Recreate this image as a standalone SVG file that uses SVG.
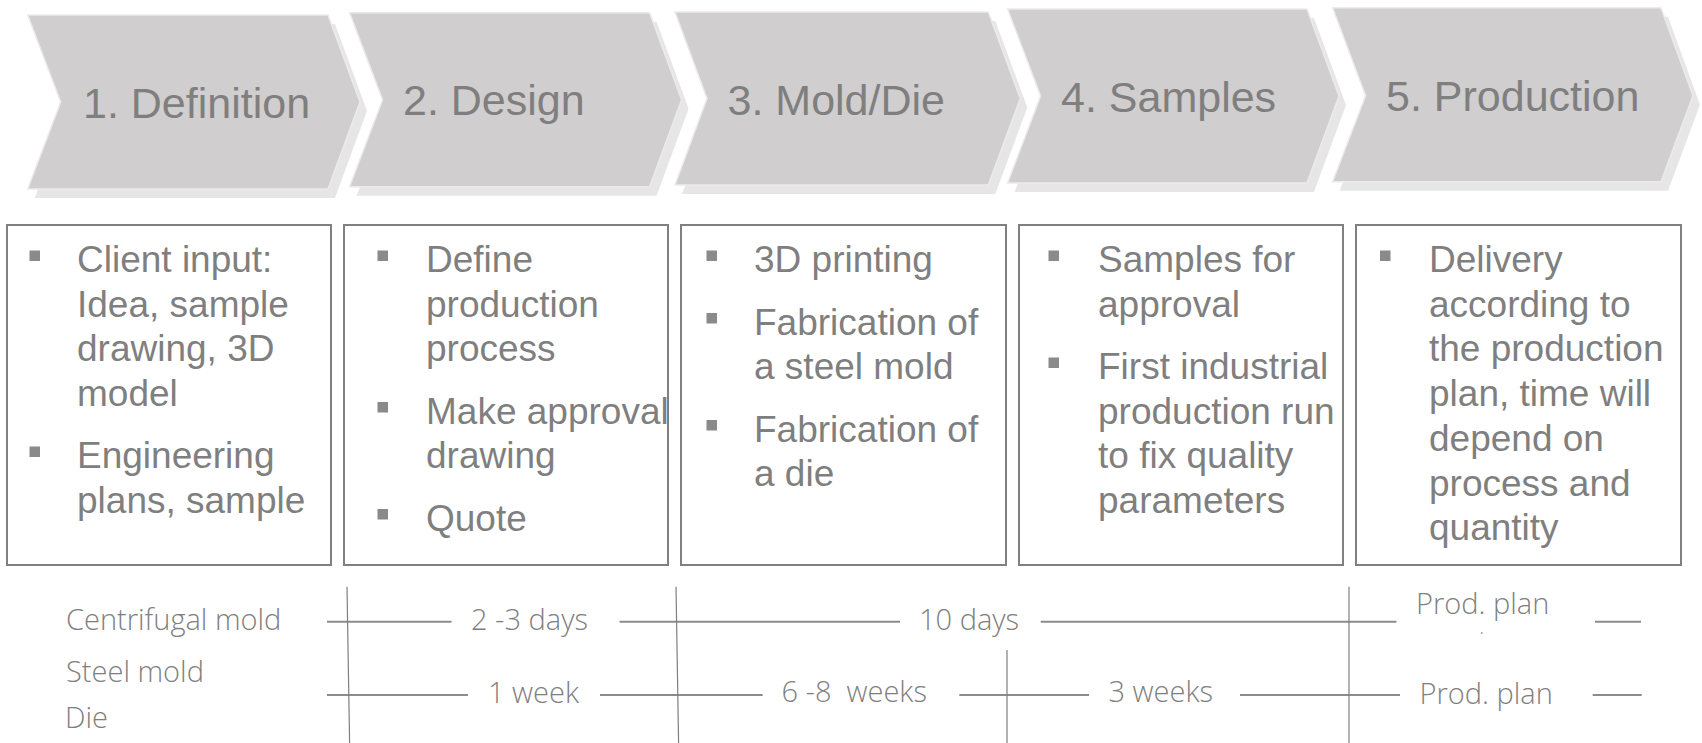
<svg xmlns="http://www.w3.org/2000/svg" width="1702" height="743" viewBox="0 0 1702 743">
<style>
.chev{fill:#d0cecf;stroke:#ebebeb;stroke-width:1.5}
.shad{fill:#e6e6e6}
.ct{font-family:"Liberation Sans",Arial,sans-serif;font-size:43px;fill:#7f7f7f}
.box{fill:#ffffff;stroke:#808080;stroke-width:2}
.bt{font-family:"Liberation Sans",Arial,sans-serif;font-size:37px;fill:#7f7f7f}
.bul{fill:#8a8a8a}
.tl{font-family:"Open Sans","Liberation Sans",sans-serif;font-weight:300;font-size:29px;fill:#7f7f7f}
.hl{stroke:#8c8c8c;stroke-width:2;fill:none}
.vl{stroke:#7f7f7f;stroke-width:1.2;fill:none}
</style>
<defs>
<polygon id="chev1" points="27.7,15 328,15 360,102 328,189 27.7,189 60.7,102"/>
<polygon id="chev2" points="349.6,12.7 649.6,12.7 681.6,99.7 649.6,186.7 349.6,186.7 382.6,99.7"/>
<polygon id="chev3" points="675,12 988.3,12 1020.3,98.5 988.3,185 675,185 707,98.5"/>
<polygon id="chev4" points="1007.6,9 1307,9 1339,96 1307,183 1007.6,183 1040.6,96"/>
<polygon id="chev5" points="1332.6,7.7 1661,7.7 1693,95.7 1661,181.7 1332.6,181.7 1365.6,95.7"/>
</defs>

<g id="step1">
<use href="#chev1" class="shad" transform="translate(7,9)"/>
<use href="#chev1" class="chev"/>
<text class="ct" x="83" y="118">1. Definition</text>
</g>
<g id="step2">
<use href="#chev2" class="shad" transform="translate(7,9)"/>
<use href="#chev2" class="chev"/>
<text class="ct" x="403" y="115">2. Design</text>
</g>
<g id="step3">
<use href="#chev3" class="shad" transform="translate(7,9)"/>
<use href="#chev3" class="chev"/>
<text class="ct" x="727.5" y="115">3. Mold/Die</text>
</g>
<g id="step4">
<use href="#chev4" class="shad" transform="translate(7,9)"/>
<use href="#chev4" class="chev"/>
<text class="ct" x="1061" y="111.7">4. Samples</text>
</g>
<g id="step5">
<use href="#chev5" class="shad" transform="translate(7,9)"/>
<use href="#chev5" class="chev"/>
<text class="ct" x="1386" y="110.7">5. Production</text>
</g>

<g id="box1">
<rect class="box" x="7" y="225" width="324" height="340"/>
<rect class="bul" x="29.5" y="250.5" width="10.5" height="10.5"/>
<rect class="bul" x="29.5" y="446.5" width="10.5" height="10.5"/>
<text class="bt">
<tspan x="77" y="272">Client input:</tspan>
<tspan x="77" y="316.5">Idea, sample</tspan>
<tspan x="77" y="361">drawing, 3D</tspan>
<tspan x="77" y="405.5">model</tspan>
<tspan x="77" y="468">Engineering</tspan>
<tspan x="77" y="512.5">plans, sample</tspan>
</text>
</g>
<g id="box2">
<rect class="box" x="344" y="225" width="324" height="340"/>
<rect class="bul" x="377.5" y="250.5" width="10.5" height="10.5"/>
<rect class="bul" x="377.5" y="402" width="10.5" height="10.5"/>
<rect class="bul" x="377.5" y="509" width="10.5" height="10.5"/>
<text class="bt">
<tspan x="426" y="272">Define</tspan>
<tspan x="426" y="316.5">production</tspan>
<tspan x="426" y="361">process</tspan>
<tspan x="426" y="423.5">Make approval</tspan>
<tspan x="426" y="468">drawing</tspan>
<tspan x="426" y="530.5">Quote</tspan>
</text>
</g>
<g id="box3">
<rect class="box" x="681" y="225" width="325" height="340"/>
<rect class="bul" x="706.5" y="250.5" width="10.5" height="10.5"/>
<rect class="bul" x="706.5" y="313" width="10.5" height="10.5"/>
<rect class="bul" x="706.5" y="420" width="10.5" height="10.5"/>
<text class="bt">
<tspan x="754" y="272">3D printing</tspan>
<tspan x="754" y="334.5">Fabrication of</tspan>
<tspan x="754" y="379">a steel mold</tspan>
<tspan x="754" y="441.5">Fabrication of</tspan>
<tspan x="754" y="486">a die</tspan>
</text>
</g>
<g id="box4">
<rect class="box" x="1019" y="225" width="324" height="340"/>
<rect class="bul" x="1048.5" y="250.5" width="10.5" height="10.5"/>
<rect class="bul" x="1048.5" y="357.5" width="10.5" height="10.5"/>
<text class="bt">
<tspan x="1098" y="272">Samples for</tspan>
<tspan x="1098" y="316.5">approval</tspan>
<tspan x="1098" y="379">First industrial</tspan>
<tspan x="1098" y="423.5">production run</tspan>
<tspan x="1098" y="468">to fix quality</tspan>
<tspan x="1098" y="512.5">parameters</tspan>
</text>
</g>
<g id="box5">
<rect class="box" x="1356" y="225" width="325" height="340"/>
<rect class="bul" x="1380" y="250.5" width="10.5" height="10.5"/>
<text class="bt">
<tspan x="1429" y="272">Delivery</tspan>
<tspan x="1429" y="316.7">according to</tspan>
<tspan x="1429" y="361.4">the production</tspan>
<tspan x="1429" y="406.1">plan, time will</tspan>
<tspan x="1429" y="450.8">depend on</tspan>
<tspan x="1429" y="495.5">process and</tspan>
<tspan x="1429" y="540.2">quantity</tspan>
</text>
</g>

<g id="timeline-labels">
<text class="tl" x="66" y="630">Centrifugal mold</text>
<text class="tl" x="66" y="681.5">Steel mold</text>
<text class="tl" x="65" y="728">Die</text>
<text class="tl" x="471" y="630">2 -3 days</text>
<text class="tl" x="919" y="630">10 days</text>
<text class="tl" x="1416" y="614">Prod. plan</text>
<circle cx="1481.7" cy="633" r="0.9" fill="#9a9a9a"/>
<text class="tl" x="488" y="702.5">1 week</text>
<text class="tl" x="781.5" y="702">6 -8&#160; weeks</text>
<text class="tl" x="1108.5" y="702">3 weeks</text>
<text class="tl" x="1419.5" y="704">Prod. plan</text>
</g>

<g id="connectors">
<line class="hl" x1="327" y1="621.7" x2="451.5" y2="621.7"/>
<line class="hl" x1="619.5" y1="621.7" x2="900" y2="621.7"/>
<line class="hl" x1="1040.7" y1="621.7" x2="1396.5" y2="621.7"/>
<line class="hl" x1="1595" y1="621.7" x2="1641" y2="621.7"/>
<line class="hl" x1="327" y1="695" x2="468" y2="695"/>
<line class="hl" x1="600" y1="695" x2="762.7" y2="695"/>
<line class="hl" x1="959.3" y1="695" x2="1089" y2="695"/>
<line class="hl" x1="1240" y1="695" x2="1400" y2="695"/>
<line class="hl" x1="1592.7" y1="695" x2="1641.7" y2="695"/>
<line class="vl" x1="347" y1="586.7" x2="349.6" y2="743"/>
<line class="vl" x1="676" y1="586.7" x2="678.6" y2="743"/>
<line class="vl" x1="1007" y1="650" x2="1007" y2="743"/>
<line class="vl" x1="1349" y1="586.7" x2="1349" y2="743"/>
</g>
</svg>
